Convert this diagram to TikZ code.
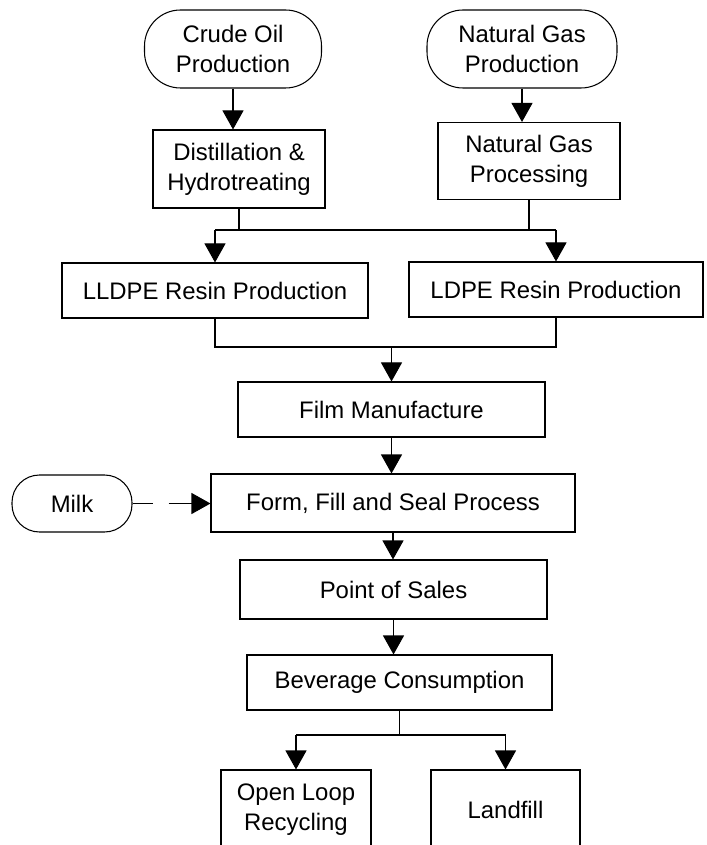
\documentclass[tikz,border=0pt]{standalone}
\usepackage{fontspec}
\setmainfont{Liberation Sans}
\usetikzlibrary{arrows.meta,positioning,calc}

\begin{document}
\begin{tikzpicture}[
    procbox/.style={draw, line width=0.6pt, minimum height=1.1cm,
                    align=center, inner sep=2pt},
    sourcebox/.style={draw, line width=0.6pt, rounded corners=0.72cm,
                      minimum height=1.56cm, align=center, inner sep=2pt},
    arrow/.style={-{Triangle[width=0.42cm,length=0.38cm]}, line width=0.6pt},
    line/.style={line width=0.6pt},
    every node/.style={font=\fontsize{13.6}{17}\selectfont}
]
\clip (0,0) rectangle (14.12,-16.9);

\node[sourcebox, minimum width=3.54cm] (crude)  at (4.66,-0.98)  {Crude Oil\\Production};
\node[sourcebox, minimum width=3.8cm]  (natgas) at (10.44,-0.98) {Natural Gas\\Production};

\node[procbox, minimum width=3.44cm, minimum height=1.56cm] (distill) at (4.78,-3.38)  {Distillation \&\\Hydrotreating};
\node[procbox, minimum width=3.64cm, minimum height=1.54cm] (ngproc)  at (10.58,-3.22) {Natural Gas\\Processing};

\node[procbox, minimum width=6.12cm] (lldpe) at (4.3,-5.81)   {LLDPE Resin Production};
\node[procbox, minimum width=5.88cm] (ldpe)  at (11.12,-5.79) {LDPE Resin Production};

\node[procbox, minimum width=6.14cm] (film) at (7.83,-8.19) {Film Manufacture};
\node[procbox, minimum width=7.28cm, minimum height=1.16cm] (form) at (7.86,-10.06) {Form, Fill and Seal Process};
\node[sourcebox, rounded corners=0.55cm, minimum width=2.4cm, minimum height=1.14cm] (milk) at (1.44,-10.07) {Milk};

\node[procbox, minimum width=6.14cm, minimum height=1.18cm] (pos) at (7.87,-11.79) {Point of Sales};
\node[procbox, minimum width=6.1cm] (bev) at (7.99,-13.65) {Beverage Consumption};

\node[procbox, minimum width=3cm, minimum height=1.6cm]    (openloop) at (5.92,-16.2)  {Open Loop\\Recycling};
\node[procbox, minimum width=2.98cm, minimum height=1.6cm] (landfill) at (10.11,-16.2) {Landfill};

\coordinate (split) at (7.4,-4.6);
\coordinate (merge) at (7.8,-6.94);
\coordinate (fork)  at (7.98,-14.7);

\draw[arrow] (crude)  -- (crude |- distill.north);
\draw[arrow] (natgas) -- (natgas |- ngproc.north);

\draw[line] (distill) -- (distill |- split);
\draw[line] (ngproc)  -- (ngproc |- split);
\draw[line] (lldpe |- split) -- (ldpe |- split);
\draw[arrow] (lldpe |- split) -- (lldpe);
\draw[arrow] (ldpe |- split)  -- (ldpe);

\draw[line] (lldpe) -- (lldpe |- merge) -- (ldpe |- merge) -- (ldpe);
\draw[arrow] (film |- merge) -- (film);

\draw[arrow] (film) -- (film |- form.north);
\draw[arrow, dash pattern=on 0.4cm off 0.32cm on 3cm] (milk) -- (milk -| form.west);
\draw[arrow] (form) -- (form |- pos.north);
\draw[arrow] (pos)  -- (pos |- bev.north);

\draw[line] (bev) -- (bev |- fork);
\draw[line] (openloop |- fork) -- (landfill |- fork);
\draw[arrow] (openloop |- fork) -- (openloop);
\draw[arrow] (landfill |- fork) -- (landfill);
\end{tikzpicture}
\end{document}
